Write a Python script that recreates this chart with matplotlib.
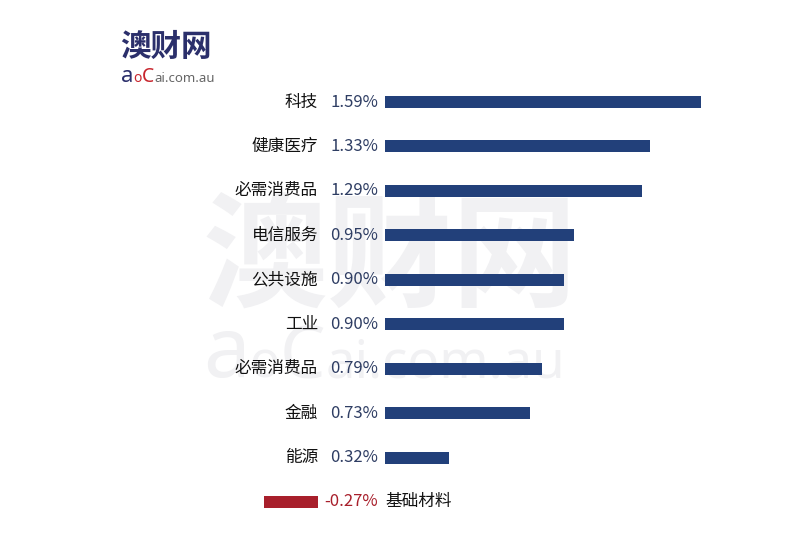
import matplotlib
matplotlib.use("Agg")
import matplotlib.pyplot as plt

plt.rcParams['font.family'] = ['Noto Sans CJK SC', 'DejaVu Sans']

# data
categories = ['科技', '健康医疗', '必需消费品', '电信服务', '公共设施', '工业',
              '必需消费品', '金融', '能源', '基础材料']
values = [1.59, 1.33, 1.29, 0.95, 0.90, 0.90, 0.79, 0.73, 0.32, -0.27]

pos_color = '#22407a'
neg_color = '#a81f2b'
val_color = '#2e3d63'

W, H = 800, 550
fig = plt.figure(figsize=(8, 5.5), dpi=100, facecolor='white')
ax = fig.add_axes([0, 0, 1, 1])
ax.set_xlim(-385 / 199, (W - 385) / 199)
ax.set_ylim((H - 102) / 44.44, -102 / 44.44)
ax.axis('off')
ax.set_zorder(1)  # bars and labels above the watermark
renderer = fig.canvas.get_renderer()


def text_run(x, y, pieces, zorder=3):
    # pieces laid out left to right, sharing a baseline (pixel coords, y from top)
    for s, size, color in pieces:
        t = fig.text(x / W, 1 - y / H, s, fontsize=size, color=color,
                     ha='left', va='baseline', zorder=zorder,
                     family=['Noto Sans', 'DejaVu Sans'])
        bb = t.get_window_extent(renderer)
        x = bb.x1


# watermark
wm = '#f1f1f3'
fig.text(203 / W, 1 - 260 / H, '澳财网', fontsize=90, fontweight='bold', color=wm,
         ha='left', va='center', zorder=0)
text_run(203, 377, [('a', 60, wm), ('o', 36, wm), ('C', 52, wm),
                    ('ai.com.au', 38, wm)], zorder=0)

# logo
fig.text(120 / W, 1 - 47 / H, '澳财网', fontsize=22, fontweight='bold', color='#2b2f6b',
         ha='left', va='center', zorder=3)
text_run(121, 82, [('a', 16, '#2b2f6b'), ('o', 10, '#c8262e'), ('C', 14, '#c8262e'),
                   ('ai.com.au', 9.5, '#666666')])

gap = (385 - 318) / 199
for i, (cat, v) in enumerate(zip(categories, values)):
    if v >= 0:
        ax.barh(i, v, height=0.27, color=pos_color, zorder=2)
        ax.text(-7 / 199, i, f'{v:.2f}%', ha='right', va='center',
                fontsize=12, color=val_color)
        ax.text(-67 / 199, i, cat, ha='right', va='center', fontsize=12, color='#111111')
    else:
        ax.barh(i, v, left=-gap, height=0.27, color=neg_color, zorder=2)
        ax.text(-7 / 199, i, f'{v:.2f}%', ha='right', va='center',
                fontsize=12, color=neg_color)
        ax.text(0, i, cat, ha='left', va='center', fontsize=12, color='#111111')

plt.savefig('out.png', dpi=100, facecolor='white')
